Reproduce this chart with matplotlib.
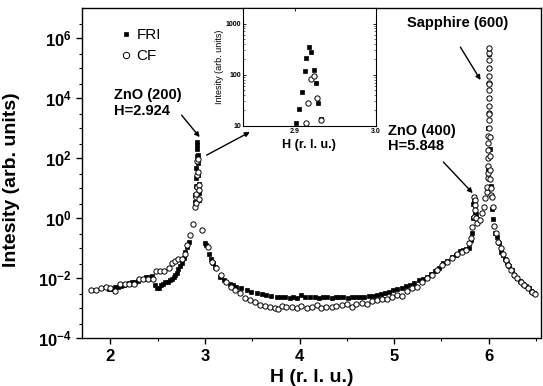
import numpy as np
import matplotlib
matplotlib.use("Agg")
import matplotlib.pyplot as plt
from matplotlib.ticker import FixedLocator, FixedFormatter, MultipleLocator, NullFormatter

plt.rcParams['font.family'] = ['Liberation Sans', 'DejaVu Sans']
plt.rcParams['mathtext.fontset'] = 'custom'
plt.rcParams['mathtext.rm'] = 'Liberation Sans:bold'
plt.rcParams['mathtext.bf'] = 'Liberation Sans:bold'

# FRI sample (filled squares)
fri_h = [1.99, 2.02, 2.05, 2.08, 2.11, 2.14, 2.17, 2.20, 2.23, 2.26, 2.29, 2.32, 2.35, 2.38,
         2.41, 2.44, 2.47, 2.49, 2.51, 2.53, 2.555, 2.58, 2.61, 2.63, 2.65, 2.67, 2.686, 2.70,
         2.72, 2.74, 2.756, 2.775, 2.79, 2.81, 2.827,
         2.895, 2.898, 2.902, 2.905, 2.909, 2.912, 2.914, 2.917, 2.9205, 2.9235, 2.926, 2.929,
         2.932, 2.935, 2.938,
         2.997, 3.015, 3.04, 3.06, 3.085, 3.11, 3.156, 3.20, 3.26, 3.30, 3.33, 3.38, 3.44, 3.49,
         3.545, 3.60, 3.65, 3.70, 3.757, 3.80, 3.85, 3.90, 3.93, 3.97, 4.02, 4.06, 4.11, 4.16,
         4.20, 4.25, 4.29, 4.34, 4.38, 4.42, 4.46, 4.51, 4.55, 4.60, 4.64, 4.68, 4.73, 4.78,
         4.82, 4.86, 4.90, 4.95, 4.99, 5.03, 5.08, 5.12, 5.17, 5.21, 5.26, 5.30, 5.35, 5.39,
         5.43, 5.47, 5.52, 5.56, 5.61, 5.65, 5.70, 5.73, 5.76, 5.79, 5.81, 5.825, 5.833, 5.838,
         5.842, 5.848, 5.855, 5.86, 5.88,
         5.99, 5.995, 6.0, 6.002, 6.005, 6.01, 6.02, 6.035,
         6.048, 6.07, 6.09, 6.107, 6.13, 6.15, 6.17, 6.19, 6.21, 6.24, 6.27, 6.30, 6.33, 6.36,
         6.39, 6.42, 6.45, 6.475]
fri_i = [4.3e-3, 4.5e-3, 5.1e-3, 5.1e-3, 5.5e-3, 5.9e-3, 6.3e-3, 6.9e-3, 7.6e-3, 7.6e-3,
         8.3e-3, 9.1e-3, 9.5e-3, 1.05e-2, 1.1e-2, 1.2e-2, 5.8e-3, 4.6e-3, 4.6e-3, 5.9e-3,
         6.6e-3, 7.2e-3, 7.6e-3, 8.5e-3, 9.1e-3, 1.05e-2, 1.26e-2, 1.5e-2, 1.95e-2, 2.5e-2,
         3.1e-2, 4.8e-2, 7.6e-2, 0.11, 0.16,
         3.5, 6.0, 11.5, 21, 46, 118, 209, 342, 274, 125, 68, 28, 13.7, 7.0, 4.0,
         0.145, 0.126, 6.6e-2, 4.5e-2, 3.1e-2, 2.3e-2, 1.1e-2, 8.5e-3, 6.6e-3, 5.9e-3, 5.1e-3,
         4.6e-3, 4.0e-3, 3.5e-3, 3.1e-3, 2.9e-3, 2.7e-3, 2.6e-3, 2.4e-3, 2.3e-3, 2.3e-3,
         2.1e-3, 2.3e-3, 2.2e-3, 2.7e-3, 2.3e-3, 2.3e-3, 2.3e-3, 2.2e-3, 2.3e-3, 2.3e-3,
         2.2e-3, 2.3e-3, 2.3e-3, 2.3e-3, 2.2e-3, 2.3e-3, 2.4e-3, 2.4e-3, 2.4e-3, 2.5e-3,
         2.6e-3, 2.7e-3, 2.9e-3, 3.1e-3, 3.5e-3, 4.0e-3, 4.2e-3, 4.6e-3, 5.5e-3, 5.9e-3,
         6.9e-3, 8.5e-3, 9.5e-3, 1.1e-2, 1.4e-2, 1.7e-2, 2.2e-2, 3.1e-2, 3.7e-2, 4.9e-2,
         6.0e-2, 8.1e-2, 8.5e-2, 9.1e-2, 9.8e-2, 0.18, 0.31, 1.0, 3.0, 5.1, 4.0, 1.6, 1.4, 0.9,
         40, 1000, 1e5, 3e5, 1e4, 200, 12, 2.0,
         0.91, 0.31, 0.24, 0.145, 7.6e-2, 6.0e-2, 4.2e-2, 3.2e-2, 2.5e-2, 1.8e-2, 1.3e-2,
         1.0e-2, 8.1e-3, 6.6e-3, 5.5e-3, 4.6e-3, 3.7e-3, 3.1e-3]

# CF sample (open circles)
cf_h = [1.80, 1.85, 1.90, 1.95, 2.00, 2.05, 2.10, 2.15, 2.20, 2.25, 2.30, 2.35, 2.40, 2.45,
        2.485, 2.52, 2.565, 2.615, 2.65, 2.686, 2.72, 2.756, 2.79, 2.81, 2.838, 2.873,
        2.895, 2.900, 2.905, 2.909, 2.9133, 2.9169, 2.9205, 2.924, 2.927, 2.932, 2.935, 2.938,
        2.972, 3.032, 3.075, 3.12, 3.174, 3.227, 3.28, 3.32, 3.368, 3.42, 3.474, 3.527, 3.58,
        3.633, 3.686, 3.74, 3.774, 3.81, 3.86, 3.92, 3.97, 4.02, 4.075, 4.13, 4.18, 4.23,
        4.28, 4.34, 4.39, 4.446, 4.50, 4.55, 4.60, 4.66, 4.71, 4.765, 4.82, 4.87, 4.92, 4.976,
        5.03, 5.08, 5.136, 5.19, 5.24, 5.295, 5.35, 5.40, 5.45, 5.507, 5.56, 5.61, 5.666,
        5.72, 5.754, 5.79, 5.807, 5.825, 5.84, 5.845, 5.850, 5.855, 5.858, 5.862, 5.876,
        5.91, 5.93, 5.95, 5.965, 5.976, 5.983, 5.988,
        5.990, 5.992, 5.993, 5.994, 5.995, 5.996, 5.997, 5.998, 5.998, 5.999, 5.999, 6.000,
        6.000, 6.000, 6.001, 6.001, 6.002, 6.002,
        6.004, 6.006, 6.008, 6.010, 6.013, 6.017, 6.02, 6.025, 6.03, 6.04,
        6.055, 6.08, 6.10, 6.125, 6.15, 6.18, 6.20, 6.23, 6.267, 6.294, 6.337, 6.37, 6.41,
        6.46, 6.493]
cf_i = [4.0e-3, 4.0e-3, 4.8e-3, 5.1e-3, 4.8e-3, 3.7e-3, 6.2e-3, 6.2e-3, 6.2e-3, 6.2e-3,
        9.3e-3, 9.1e-3, 9.1e-3, 9.1e-3, 1.7e-2, 1.75e-2, 1.75e-2, 2.1e-2, 3.1e-2, 3.7e-2,
        4.2e-2, 4.4e-2, 6.3e-2, 0.126, 0.27, 0.63,
        2.4, 3.1, 5.0, 6.6, 11.3, 28, 83, 95, 35, 13, 8.5, 4.5,
        0.40, 0.11, 3.5e-2, 2.1e-2, 1.26e-2, 7.6e-3, 5.1e-3, 4.0e-3, 3.1e-3, 2.2e-3, 1.86e-3,
        1.55e-3, 1.3e-3, 1.17e-3, 1.1e-3, 9.8e-4, 9.3e-4, 1.17e-3, 1.1e-3, 1.05e-3, 9.8e-4,
        1.17e-3, 9.8e-4, 1.1e-3, 1.26e-3, 1.02e-3, 1.1e-3, 1.1e-3, 1.17e-3, 1.32e-3, 1.35e-3,
        1.1e-3, 1.35e-3, 1.45e-3, 1.35e-3, 1.7e-3, 1.86e-3, 2.0e-3, 2.0e-3, 2.3e-3, 2.7e-3,
        2.6e-3, 3.7e-3, 4.8e-3, 5.1e-3, 7.6e-3, 9.8e-3, 1.26e-2, 1.86e-2, 2.7e-2, 3.5e-2,
        4.8e-2, 6.6e-2, 7.6e-2, 8.5e-2, 0.145, 0.21, 0.51, 1.1, 5.0, 4.0, 2.7, 1.9, 1.0, 0.69,
        0.85, 1.45, 2.4, 4.6, 7.6, 11, 21,
        32, 56, 100, 180, 320, 560, 1000, 1800, 3200, 5600, 1e4, 1.8e4, 3.2e4, 5.6e4, 1e5,
        1.8e5, 3.2e5, 4.6e5,
        3e4, 3e3, 500, 120, 40, 20, 10, 6, 5.1, 2.4,
        0.54, 0.31, 0.16, 9.8e-2, 6.3e-2, 4.0e-2, 2.7e-2, 1.86e-2, 1.32e-2, 1.02e-2, 7.6e-3,
        5.9e-3, 4.6e-3, 3.5e-3, 2.9e-3]

ytick_vals = [1e-4, 1e-2, 1e0, 1e2, 1e4, 1e6]
ytick_labels = [r'$\mathbf{10^{-4}}$', r'$\mathbf{10^{-2}}$', r'$\mathbf{10^{0}}$',
                r'$\mathbf{10^{2}}$', r'$\mathbf{10^{4}}$', r'$\mathbf{10^{6}}$']

fig = plt.figure(figsize=(5.43, 3.86), dpi=100)
ax = fig.add_axes([0.151, 0.124, 0.845, 0.855])

sq = dict(ls='none', marker='s', ms=3.0, mfc='black', mec='black', mew=0.5)
ci = dict(ls='none', marker='o', ms=3.8, mfc='white', mec='black', mew=0.7)

ax.plot(fri_h, fri_i, label='FRI', zorder=3, **sq)
ax.plot(cf_h, cf_i, label='CF', zorder=4, **ci)

ax.set_yscale('log')
ax.set_xlim(1.7, 6.55)
ax.set_ylim(1e-4, 1e7)
ax.yaxis.set_major_locator(FixedLocator(ytick_vals))
ax.yaxis.set_major_formatter(FixedFormatter(ytick_labels))
ax.yaxis.set_minor_locator(FixedLocator([3e-4, 1e-3, 3e-3, 3e-2, 1e-1, 3e-1, 3e0, 1e1, 3e1,
                                         3e2, 1e3, 3e3, 3e4, 1e5, 3e5, 3e6]))
ax.yaxis.set_minor_formatter(NullFormatter())
ax.xaxis.set_major_locator(MultipleLocator(1))
ax.xaxis.set_minor_locator(MultipleLocator(0.5))
ax.tick_params(which='major', direction='out', length=4, width=1, labelsize=12)
ax.tick_params(which='minor', direction='out', length=2.5, width=0.8)
for lab in ax.get_xticklabels():
    lab.set_fontweight('bold')
for s in ax.spines.values():
    s.set_linewidth(1.0)

ax.set_xlabel('H (r. l. u.)', fontsize=14, fontweight='bold', labelpad=4)
ax.set_ylabel('Intesity (arb. units)', fontsize=14, fontweight='bold')
ax.yaxis.set_label_coords(-0.135, 0.48)

ax.legend(loc='upper left', bbox_to_anchor=(0.055, 0.98), frameon=False, fontsize=11,
          handlelength=0.6, handletextpad=0.4, labelspacing=0.45, markerscale=1.2)

# annotations
ax.text(2.04, 6.8e3, 'ZnO (200)\nH=2.924', fontsize=10.5, fontweight='bold',
        ha='left', va='center', linespacing=1.15)
ax.text(5.674, 3.2e6, 'Sapphire (600)', fontsize=10.5, fontweight='bold',
        ha='center', va='center')
ax.text(4.937, 447, 'ZnO (400)\nH=5.848', fontsize=10.5, fontweight='bold',
        ha='left', va='center', linespacing=1.15)

arr = dict(arrowstyle='-|>', color='black', lw=1.0, mutation_scale=7, shrinkA=0, shrinkB=0)
ax.annotate('', xy=(2.944, 500), xytext=(2.753, 2.7e3), arrowprops=arr)
ax.annotate('', xy=(5.913, 4.0e4), xytext=(5.70, 5.0e5), arrowprops=arr)
ax.annotate('', xy=(5.83, 6.8), xytext=(5.52, 74), arrowprops=arr)
ax.annotate('', xy=(3.474, 740), xytext=(3.018, 126), arrowprops=arr)

# inset
ins = fig.add_axes([0.4475, 0.674, 0.2445, 0.305])
ins.plot(fri_h, fri_i, zorder=3, **sq)
ins.plot(cf_h, cf_i, zorder=4, **ci)
ins.set_yscale('log')
ins.set_xlim(2.836, 3.0)
ins.set_ylim(10, 2000)
ins.xaxis.set_major_locator(FixedLocator([2.9, 3.0]))
ins.xaxis.set_major_formatter(FixedFormatter(['2.9', '3.0']))
ins.yaxis.set_major_locator(FixedLocator([10, 100, 1000]))
ins.yaxis.set_major_formatter(FixedFormatter(['10', '100', '1000']))
ins.yaxis.set_minor_formatter(NullFormatter())
ins.tick_params(which='both', direction='in', top=True, right=True, labelsize=5, pad=1.5)
ins.tick_params(which='major', length=2.5, width=0.6)
ins.tick_params(which='minor', length=1.5, width=0.4)
for lab in ins.get_xticklabels() + ins.get_yticklabels():
    lab.set_fontweight('bold')
for s in ins.spines.values():
    s.set_linewidth(0.8)
ins.set_xlabel('H (r. l. u.)', fontsize=9, fontweight='bold', labelpad=3)
ins.set_ylabel('Intesity (arb. units)', fontsize=6.5, labelpad=1)

fig.savefig('out.png', dpi=100)
